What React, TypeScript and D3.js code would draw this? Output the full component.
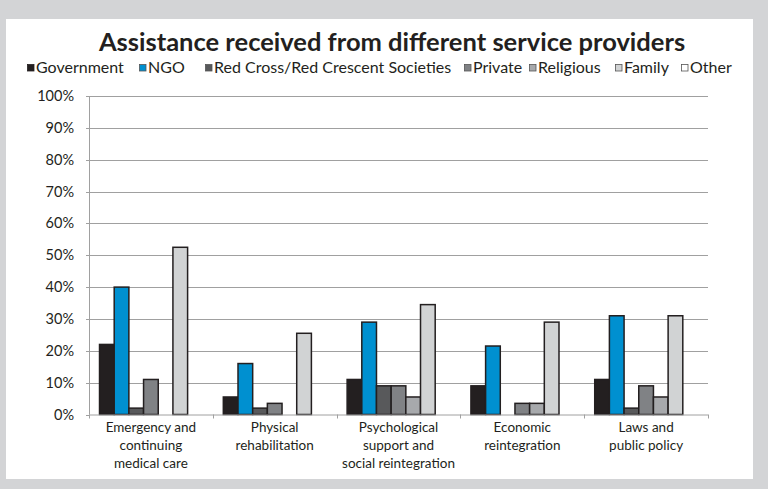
import React from "react";
import * as d3 from "d3";

const categories: string[][] = [
  ["Emergency and", "continuing", "medical care"],
  ["Physical", "rehabilitation"],
  ["Psychological", "support and", "social reintegration"],
  ["Economic", "reintegration"],
  ["Laws and", "public policy"],
];

const seriesNames = [
  "Government",
  "NGO",
  "Red Cross/Red Crescent Societies",
  "Private",
  "Religious",
  "Family",
  "Other",
];

const government = [22, 5.5, 11, 9, 11];
const ngo = [40, 16, 29, 21.5, 31];
const redCross = [2, 2, 9, 0, 2];
const privateSector = [11, 3.5, 9, 3.5, 9];
const religious = [0, 0, 5.5, 3.5, 5.5];
const family = [52.5, 25.5, 34.5, 29, 31];
const other = [0, 0, 0, 0, 0];

const seriesValues = [government, ngo, redCross, privateSector, religious, family, other];
const seriesColors = ["#231f20", "#0090d0", "#58595b", "#808285", "#a7a9ac", "#d1d3d4", "#ffffff"];

const yTicks = [0, 10, 20, 30, 40, 50, 60, 70, 80, 90, 100];

const W = 768;
const H = 489;
const FONT = "Lato, 'Open Sans', sans-serif";

export default function App() {
  const left = 89;
  const right = 708;
  const top = 96;
  const bottom = 414.5;

  const x0 = d3
    .scaleBand<number>()
    .domain(categories.map((_, i) => i))
    .range([left, right])
    .paddingInner(0)
    .paddingOuter(0);
  const gw = x0.bandwidth();
  const gap = gw * 0.085;
  const x1 = d3
    .scaleBand<number>()
    .domain(seriesNames.map((_, i) => i))
    .range([gap, gw - gap])
    .padding(0);
  const y = d3.scaleLinear().domain([0, 100]).range([bottom, top]);

  const legendX = [27, 139, 205, 464, 529, 615, 681];

  return (
    <svg
      width={W}
      height={H}
      style={{ position: "absolute", left: 0, top: 0, display: "block" }}
      fontFamily={FONT}
    >
      <rect x={0} y={0} width={W} height={H} fill="#d3d4d6" />
      <rect x={6} y={19} width={747} height={460} fill="#ffffff" />
      <text
        x={392}
        y={51}
        textAnchor="middle"
        fontSize={25.5}
        fontWeight="bold"
        fill="#231f20"
      >
        Assistance received from different service providers
      </text>
      {seriesNames.map((name, i) => (
        <g key={name} transform={`translate(${legendX[i]},0)`}>
          <rect
            x={0.5}
            y={64.5}
            width={6.5}
            height={6.5}
            fill={seriesColors[i]}
            stroke={i === 0 ? seriesColors[0] : "#555"}
            strokeWidth={0.8}
          />
          <text x={9} y={73} fontSize={16} fill="#231f20">
            {name}
          </text>
        </g>
      ))}
      {yTicks.map((t) => (
        <g key={t}>
          <line
            x1={left - 3}
            x2={t === 0 ? left : right}
            y1={Math.round(y(t)) + 0.5}
            y2={Math.round(y(t)) + 0.5}
            stroke="#a0a0a0"
            strokeWidth={1}
          />
          <text
            x={74}
            y={y(t)}
            dy="0.35em"
            textAnchor="end"
            fontSize={14.5}
            fill="#231f20"
          >
            {t}%
          </text>
        </g>
      ))}
      <line x1={left + 0.5} x2={left + 0.5} y1={y(100)} y2={bottom} stroke="#a0a0a0" />
      {categories.map((cat, ci) => (
        <g key={ci} transform={`translate(${x0(ci)},0)`}>
          {seriesValues.map((vals, si) => {
            const v = vals[ci];
            if (v <= 0) return null;
            return (
              <rect
                key={si}
                x={x1(si)}
                y={y(v)}
                width={x1.bandwidth()}
                height={bottom - y(v)}
                fill={seriesColors[si]}
                stroke="#231f20"
                strokeWidth={1.5}
              />
            );
          })}
        </g>
      ))}
      <line x1={left} x2={right} y1={bottom + 0.5} y2={bottom + 0.5} stroke="#a0a0a0" />
      {d3.range(categories.length + 1).map((i) => {
        const xx = Math.round(left + i * gw) + 0.5;
        return (
          <line key={i} x1={xx} x2={xx} y1={bottom} y2={bottom + 4} stroke="#a0a0a0" />
        );
      })}
      {categories.map((cat, ci) => (
        <text
          key={ci}
          x={(x0(ci) as number) + gw / 2}
          y={432}
          textAnchor="middle"
          fontSize={13.5}
          fill="#231f20"
        >
          {cat.map((line, li) => (
            <tspan key={li} x={(x0(ci) as number) + gw / 2} dy={li === 0 ? 0 : 18}>
              {line}
            </tspan>
          ))}
        </text>
      ))}
    </svg>
  );
}
